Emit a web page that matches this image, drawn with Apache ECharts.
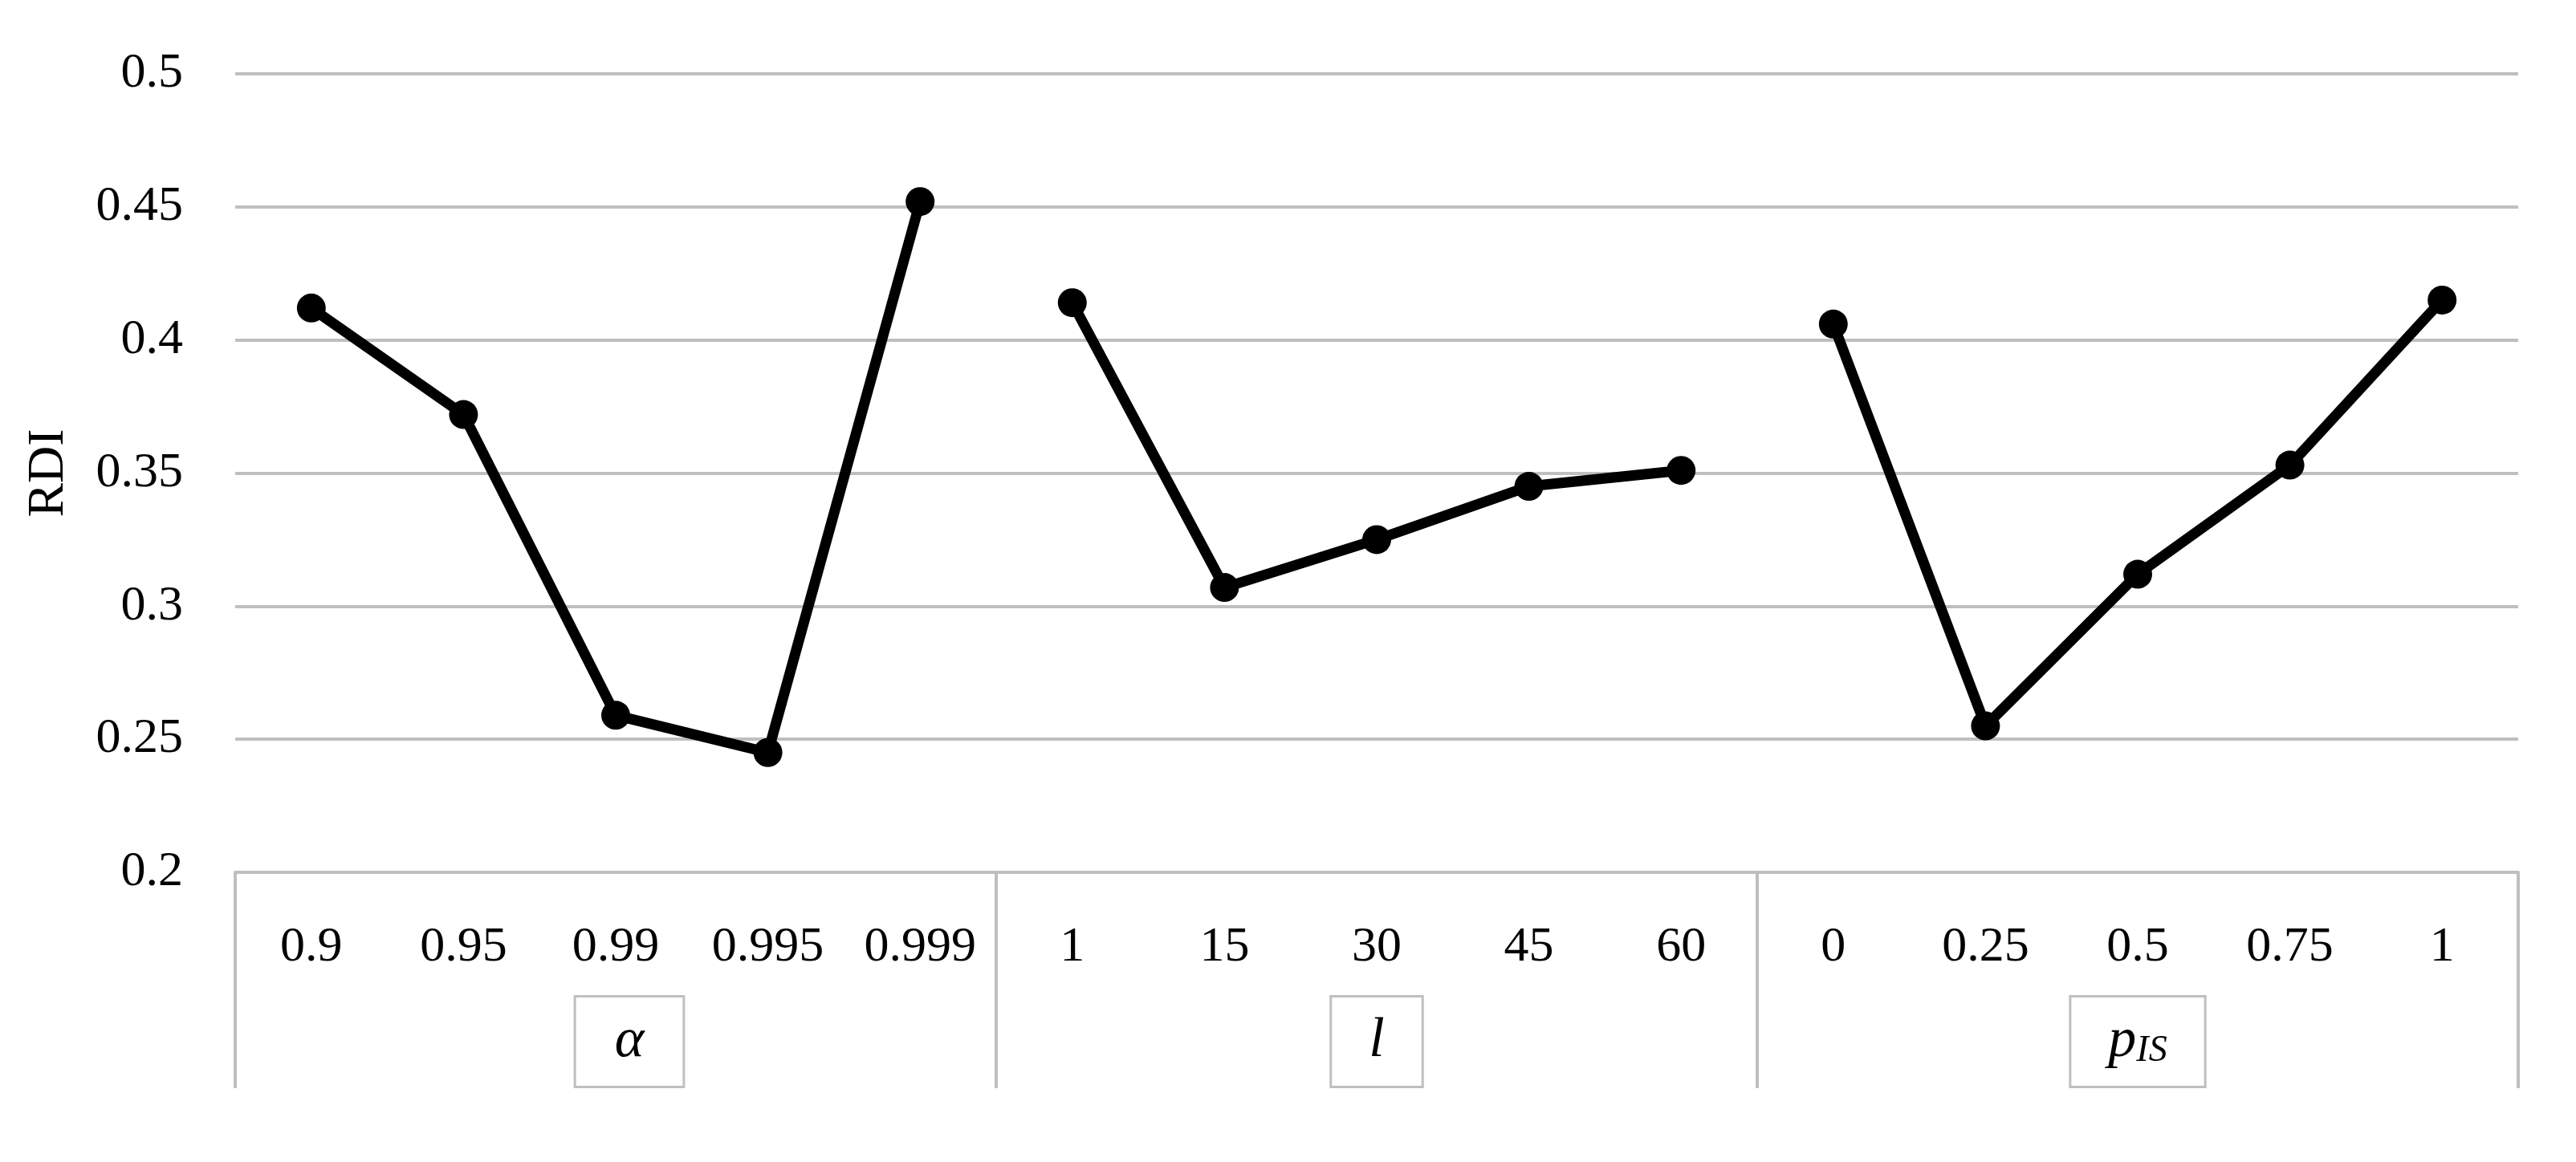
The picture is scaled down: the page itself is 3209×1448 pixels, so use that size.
<!DOCTYPE html>
<html>
<head>
<meta charset="utf-8">
<script src="https://cdn.jsdelivr.net/npm/echarts@6/dist/echarts.min.js"></script>
<style>
html,body{margin:0;padding:0;background:#fff;}
#chart{width:3209px;height:1448px;}
</style>
</head>
<body>
<div id="chart"></div>
<script>
// ---- data ----
const tickLabels = ['0.9','0.95','0.99','0.995','0.999','1','15','30','45','60','0','0.25','0.5','0.75','1'];
const groupNames = ['alpha','l','pIS'];
const alphaValues = [0.412, 0.372, 0.259, 0.245, 0.452];
const lValues = [0.414, 0.307, 0.325, 0.345, 0.351];
const pISValues = [0.406, 0.255, 0.312, 0.353, 0.415];
const yTicks = { min: 0.2, max: 0.5, step: 0.05 };

const FONT = '"Liberation Serif", "DejaVu Serif", serif';
const GRAY = '#bfbfbf';

function pad(vals, groupIndex) {
  const out = [];
  for (let g = 0; g < 3; g++) {
    for (let i = 0; i < 5; i++) out.push(g === groupIndex ? vals[i] : '-');
  }
  return out;
}

const seriesStyle = {
  type: 'line',
  xAxisIndex: 0,
  yAxisIndex: 0,
  symbol: 'circle',
  symbolSize: 36,
  lineStyle: { color: '#000', width: 13 },
  itemStyle: { color: '#000' },
  connectNulls: false,
  silent: true,
  animation: false
};

const groupData = groupNames.map(function (g) {
  if (g === 'alpha') return { value: g, textStyle: { borderWidth: 0, padding: [20, 0, 0, 0], backgroundColor: 'transparent' } };
  return g;
});

const chart = echarts.init(document.getElementById('chart'));
chart.setOption({
  backgroundColor: '#fff',
  animation: false,
  grid: { left: 293, right: 72, top: 92, bottom: 361 },
  xAxis: [
    {
      type: 'category',
      data: tickLabels,
      boundaryGap: true,
      position: 'bottom',
      axisLine: { show: true, lineStyle: { color: GRAY, width: 4 } },
      axisTick: { show: false },
      axisLabel: {
        interval: 0,
        margin: 63,
        fontFamily: FONT,
        fontSize: 62,
        color: '#000'
      },
      splitLine: { show: false }
    },
    {
      type: 'category',
      data: groupData,
      boundaryGap: true,
      position: 'bottom',
      axisLine: { show: false },
      axisTick: { show: true, length: 269, lineStyle: { color: GRAY, width: 4 } },
      axisLabel: {
        interval: 0,
        margin: 156,
        borderColor: GRAY,
        borderWidth: 3,
        padding: [20, 46, 20, 46],
        backgroundColor: '#fff',
        formatter: function (v) {
          if (v === 'alpha') return '{g|}{ab|α}';
          if (v === 'l') return '{i|l}';
          return '{i|p}{s|IS}';
        },
        rich: {
          g: { width: 34, height: 10 },
          ab: { fontFamily: FONT, fontStyle: 'italic', fontSize: 70, lineHeight: 70, color: '#000',
                borderColor: GRAY, borderWidth: 3, padding: [20, 48, 20, 48], backgroundColor: '#fff' },
          i: { fontFamily: FONT, fontStyle: 'italic', fontSize: 70, lineHeight: 70, color: '#000' },
          s: { fontFamily: FONT, fontStyle: 'italic', fontSize: 46, lineHeight: 38, color: '#000', verticalAlign: 'bottom' }
        }
      },
      splitLine: { show: false }
    }
  ],
  yAxis: {
    type: 'value',
    min: yTicks.min,
    max: yTicks.max,
    interval: yTicks.step,
    name: 'RDI',
    nameLocation: 'middle',
    nameGap: 200,
    nameTextStyle: { fontFamily: FONT, fontSize: 64, color: '#000' },
    axisLine: { show: false },
    axisTick: { show: false },
    axisLabel: {
      margin: 65,
      fontFamily: FONT,
      fontSize: 62,
      color: '#000',
      formatter: function (v) { return String(Math.round(v * 1000) / 1000); }
    },
    splitLine: { show: true, lineStyle: { color: GRAY, width: 4 } }
  },
  series: [
    Object.assign({}, seriesStyle, { name: 'alpha', data: pad(alphaValues, 0) }),
    Object.assign({}, seriesStyle, { name: 'l', data: pad(lValues, 1) }),
    Object.assign({}, seriesStyle, { name: 'pIS', data: pad(pISValues, 2) })
  ]
});
</script>
</body>
</html>
